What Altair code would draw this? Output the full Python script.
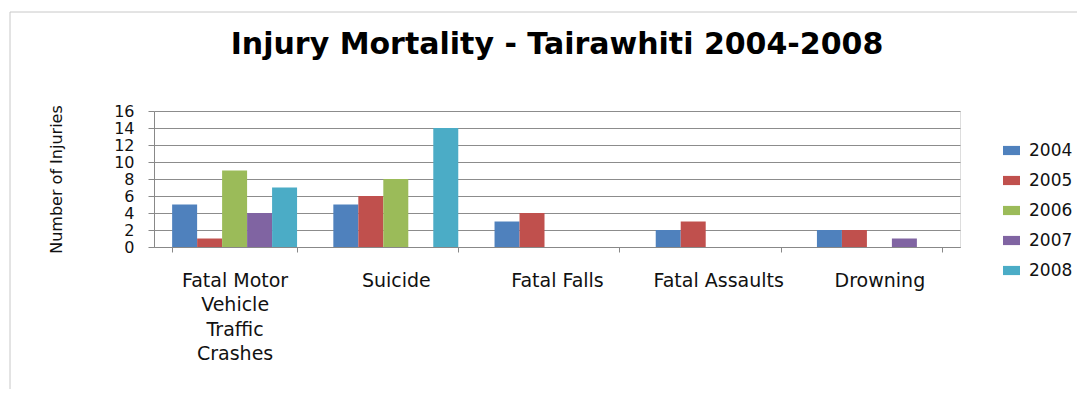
import altair as alt
import pandas as pd

CATEGORIES = ["Fatal Motor Vehicle Traffic Crashes", "Suicide", "Fatal Falls", "Fatal Assaults", "Drowning"]
CATEGORY_LINES = {"Fatal Motor Vehicle Traffic Crashes": ["Fatal Motor", "Vehicle", "Traffic", "Crashes"]}
YEARS = ["2004", "2005", "2006", "2007", "2008"]
V2004 = [5, 5, 3, 2, 2]
V2005 = [1, 6, 4, 3, 2]
V2006 = [9, 8, 0, 0, 0]
V2007 = [4, 0, 0, 0, 1]
V2008 = [7, 14, 0, 0, 0]
COLORS = ["#4F81BD", "#C0504D", "#9BBB59", "#8064A2", "#4BACC6"]
Y_TICKS = [0, 2, 4, 6, 8, 10, 12, 14, 16]
TITLE = "Injury Mortality - Tairawhiti 2004-2008"
Y_TITLE = "Number of Injuries"

series = [V2004, V2005, V2006, V2007, V2008]
rows = []
for yr, vals in zip(YEARS, series):
    for cat, v in zip(CATEGORIES, vals):
        rows.append({"category": cat, "year": yr, "value": v})
df = pd.DataFrame(rows)

label_expr = " : ".join(
    [f"datum.value == '{k}' ? {v!r}" for k, v in CATEGORY_LINES.items()] + ["datum.value"]
)

bars = alt.Chart(df).mark_bar().encode(
    x=alt.X(
        "category:N",
        sort=CATEGORIES,
        scale=alt.Scale(paddingInner=0.225, paddingOuter=0.1125),
        axis=alt.Axis(
            title=None, labelAngle=0, labelExpr=label_expr,
            labelFont="DejaVu Sans", labelFontSize=19, labelColor="#111111",
            labelLineHeight=24.5, labelPadding=19, labelLimit=0,
            tickSize=5, tickColor="#888888", domainColor="#888888",
            tickBand="extent", grid=False,
        ),
    ),
    xOffset=alt.XOffset("year:N", sort=YEARS),
    y=alt.Y(
        "value:Q",
        scale=alt.Scale(domain=[0, 16], nice=False),
        axis=alt.Axis(
            values=Y_TICKS, title=Y_TITLE,
            labelFont="DejaVu Sans", labelFontSize=16, labelColor="#111111",
            labelPadding=14, tickSize=6, tickColor="#888888", domainColor="#888888",
            gridColor="#8c8c8c", gridWidth=1,
            titleFont="DejaVu Sans", titleFontSize=16, titleFontWeight="normal",
            titleColor="#111111", titleAngle=-90, titleX=-98, titleY=68,
            titleAlign="center", titleBaseline="middle",
        ),
    ),
    color=alt.Color(
        "year:N",
        scale=alt.Scale(domain=YEARS, range=COLORS),
        legend=alt.Legend(
            title=None, orient="none", legendX=849, legendY=31,
            symbolType="M-1,-0.54H1V0.54H-1Z", symbolSize=289,
            symbolStrokeWidth=0, labelFont="DejaVu Sans", labelFontSize=17,
            labelColor="#111111", rowPadding=12, labelOffset=9, padding=0,
        ),
    ),
)

frame_top = alt.Chart(pd.DataFrame({"a": [0]})).mark_rule(color="#c8c8c8").encode(
    x=alt.value(-144), x2=alt.value(931), y=alt.value(-99)
)
frame_left = alt.Chart(pd.DataFrame({"a": [0]})).mark_rule(color="#c8c8c8").encode(
    x=alt.value(-144), y=alt.value(-99), y2=alt.value(300)
)

chart = alt.layer(bars, frame_top, frame_left).properties(
    width=806, height=136,
    title=alt.Title(TITLE, font="DejaVu Sans", fontSize=30, fontWeight="bold",
                    color="#000000", anchor="middle", offset=-48),
    autosize=alt.AutoSizeParams(type="none"),
    padding={"left": 146, "top": 103, "right": 117, "bottom": 142},
).configure_view(stroke=None).configure(background="white")

chart.save("out.html", embed_options={"renderer": "svg", "actions": False})
